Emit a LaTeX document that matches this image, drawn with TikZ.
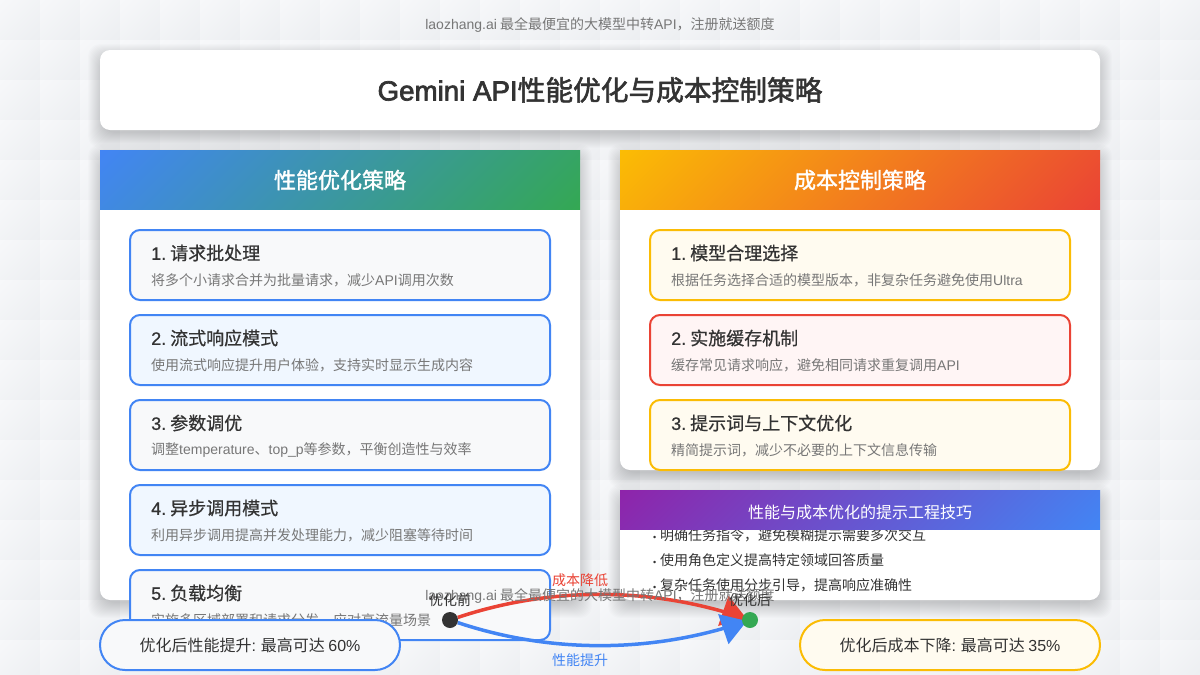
\documentclass[tikz,border=0pt]{standalone}
\usepackage{fontspec}
\usetikzlibrary{arrows.meta, bending}
\setmainfont{Noto Sans CJK SC}
\newfontfamily\lat{Liberation Sans}
\newfontfamily\heavy[FakeBold=2]{Noto Sans CJK SC}
\newfontfamily\heavylat[FakeBold=2.5]{Liberation Sans}
\newfontfamily\headfont[FakeBold=1.5]{Noto Sans CJK SC}
\newfontfamily\semi[FakeBold=.7]{Noto Sans CJK SC}
\newfontfamily\semilat[FakeBold=.7]{Liberation Sans}
\definecolor{gblue}{HTML}{4285F4}
\definecolor{ggreen}{HTML}{34A853}
\definecolor{gyellow}{HTML}{FBBC04}
\definecolor{gred}{HTML}{EA4335}
\definecolor{gpurple}{HTML}{8E24AA}
\definecolor{tdark}{HTML}{333333}
\definecolor{tgray}{HTML}{777777}
\definecolor{celllight}{HTML}{F7F8FA}
\definecolor{celldark}{HTML}{ECEEF1}
\definecolor{boxgray}{HTML}{F8F9FA}
\definecolor{boxblue}{HTML}{F0F7FF}
\definecolor{boxyellow}{HTML}{FFFBF0}
\definecolor{boxred}{HTML}{FFF5F5}
\pgfdeclarehorizontalshading{cellshade}{100bp}{color(0bp)=(celllight); color(14.64bp)=(celllight); color(85.36bp)=(celldark); color(100bp)=(celldark)}
\pgfdeclarehorizontalshading{perfhead}{100bp}{color(0bp)=(gblue); color(14.64bp)=(gblue); color(85.36bp)=(ggreen); color(100bp)=(ggreen)}
\pgfdeclarehorizontalshading{costhead}{100bp}{color(0bp)=(gyellow); color(14.64bp)=(gyellow); color(85.36bp)=(gred); color(100bp)=(gred)}
\pgfdeclarehorizontalshading{tiphead}{100bp}{color(0bp)=(gpurple); color(14.64bp)=(gpurple); color(85.36bp)=(gblue); color(100bp)=(gblue)}
\pgfdeclarelayer{front}
\pgfsetlayers{main,front}
% card with a soft shadow: x1/y1/x2/y2
\newcommand{\softcard}[4]{
    \foreach \s in {-3,-2,...,12}{
        \fill [black, opacity=.01, rounded corners=12pt] (#1-\s,#2-\s+6) rectangle (#3+\s,#4+\s+6);
    };
    \fill [white, rounded corners=10pt] (#1,#2) rectangle (#3,#4);
}
\begin{document}
\begin{tikzpicture}[x=1pt, y=-1pt,
    itembox/.style={rounded corners=10pt, line width=2pt},
    itemtitle/.style={anchor=west, inner sep=0pt, text=tdark, font=\semi\fontsize{18}{21}\selectfont},
    itemtext/.style={anchor=west, inner sep=0pt, text=tgray, font=\fontsize{14}{17}\selectfont},
    headtext/.style={text=white, font=\headfont\fontsize{22}{26}\selectfont},
    tiptext/.style={anchor=west, inner sep=0pt, text=tdark, font=\fontsize{14}{17}\selectfont},
    pill/.style={draw, line width=2pt, rounded corners=25pt, minimum width=300pt, minimum height=50pt, text=tdark, font=\fontsize{16}{19}\selectfont},
    watermark/.style={text=tgray, font=\fontsize{14}{17}\selectfont},
    dotnode/.style={circle, inner sep=0pt, minimum size=16pt},
    dotlabel/.style={text=tdark, font=\fontsize{14}{17}\selectfont},
    gainlabel/.style={font=\fontsize{14}{17}\selectfont},
    gain/.style={line width=3.5pt, shorten >=-5pt, -{Triangle[length=25pt, width=31pt, flex=0]}}]
    \useasboundingbox (0,0) rectangle (1200,675);
    % the faint squares behind everything
    \foreach \x in {0,40,...,1160}{
        \foreach \y in {0,40,...,640}{
            \shade [shading=cellshade, shading angle=-45] (\x,\y) rectangle (\x+40,\y+40);
        };
    };
    \node [watermark] (topmark) at (600,25) {{\lat laozhang.ai} 最全最便宜的大模型中转{\lat API}，注册就送额度};
    \softcard{100}{50}{1100}{130}
    \node [text=tdark, font=\heavy\fontsize{27.7}{32}\selectfont] (maintitle) at (600,90) {{\heavylat Gemini API}性能优化与成本控制策略};
    % left panel
    \softcard{100}{150}{580}{600}
    \shade [shading=perfhead, shading angle=-45] (100,150) rectangle (580,209.5);
    \node [headtext] (perfhead) at (340,180) {性能优化策略};
    \foreach \y \f \w \t [count=\i] in {230/boxgray/请求批处理/将多个小请求合并为批量请求，减少{\lat API}调用次数,
        315/boxblue/流式响应模式/使用流式响应提升用户体验，支持实时显示生成内容,
        400/boxgray/参数调优/调整{\lat temperature}、{\lat top\_p}等参数，平衡创造性与效率,
        485/boxblue/异步调用模式/利用异步调用提高并发处理能力，减少阻塞等待时间,
        570/boxgray/负载均衡/实施多区域部署和请求分发，应对高流量场景}{
        \draw [itembox, draw=gblue, fill=\f] (130,\y) rectangle (550,\y+70);
        \node [itemtitle] (perf\i) at (151,\y+23) {{\semilat \i.}\hspace{4pt}\w};
        \node [itemtext] (perfdesc\i) at (151,\y+50) {\t};
    };
    % right panel
    \softcard{620}{150}{1100}{470}
    \shade [shading=costhead, shading angle=-45] (620,150) rectangle (1100,209.5);
    \node [headtext] (costhead) at (860,180) {成本控制策略};
    \foreach \y \f \c \w \t [count=\i] in {230/boxyellow/gyellow/模型合理选择/根据任务选择合适的模型版本，非复杂任务避免使用{\lat Ultra},
        315/boxred/gred/实施缓存机制/缓存常见请求响应，避免相同请求重复调用{\lat API},
        400/boxyellow/gyellow/提示词与上下文优化/精简提示词，减少不必要的上下文信息传输}{
        \draw [itembox, draw=\c, fill=\f] (650,\y) rectangle (1070,\y+70);
        \node [itemtitle] (cost\i) at (671,\y+23) {{\semilat \i.}\hspace{4pt}\w};
        \node [itemtext] (costdesc\i) at (671,\y+50) {\t};
    };
    % tips
    \softcard{620}{490}{1100}{600}
    \foreach \y \t [count=\i] in {535/明确任务指令，避免模糊提示需要多次交互,
        560/使用角色定义提高特定领域回答质量,
        585/复杂任务使用分步引导，提高响应准确性}{
        \node [tiptext] (tip\i) at (660,\y) {\llap{{\lat\fontsize{9}{9}\selectfont •}\hspace{4pt}}\t};
    };
    \shade [shading=tiphead, shading angle=-45] (620,490) rectangle (1100,529.5);
    \node [text=white, font=\fontsize{16}{19}\selectfont] (tiphead) at (860,512) {性能与成本优化的提示工程技巧};
    % result pills
    \node [pill, draw=gblue, fill=boxgray] (perfpill) at (250,645) {优化后性能提升{\lat :} 最高可达 {\lat 60\%}};
    \node [pill, draw=gyellow, fill=boxyellow] (costpill) at (950,645) {优化后成本下降{\lat :} 最高可达 {\lat 35\%}};
    % before and after
    \begin{pgfonlayer}{front}
        \node [dotnode, fill=tdark] (before) at (450,620) {};
        \node [dotnode, fill=ggreen] (after) at (750,620) {};
        \node [dotlabel] (beforelabel) at (450,600) {优化前};
        \node [dotlabel] (afterlabel) at (750,600) {优化后};
    \end{pgfonlayer}
    \draw [gain, gred] (before) .. controls (550,586.7) and (650,586.7) .. (after);
    \draw [gain, gblue] (before) .. controls (550,653.3) and (650,653.3) .. (after);
    \node [watermark] (bottommark) at (600,596) {{\lat laozhang.ai} 最全最便宜的大模型中转{\lat API}，注册就送额度};
    \node [gainlabel, text=gred] (costgain) at (580,580) {成本降低};
    \node [gainlabel, text=gblue] (perfgain) at (580,660) {性能提升};
\end{tikzpicture}
\end{document}
